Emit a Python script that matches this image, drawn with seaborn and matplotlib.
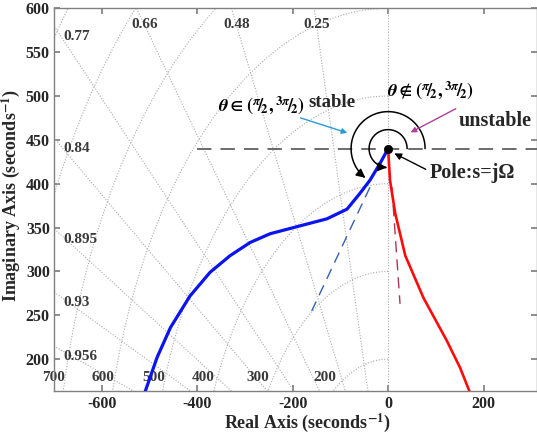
import numpy as np
import pandas as pd
import matplotlib
matplotlib.use("Agg")
import matplotlib.pyplot as plt
import matplotlib.transforms as mtransforms
from matplotlib.patches import FancyArrowPatch
from matplotlib.path import Path
import seaborn as sns

# ---------------- data ----------------
blue_x = [-509, -484, -456, -415, -373, -331, -289, -247, -198, -128, -86, -59, -38, -17, 0]
blue_y = [163, 202, 236, 272, 299, 318, 333, 343, 350, 360, 371, 389, 404, 423, 440]
red_x = [0, 4, 15, 36, 74, 123, 151, 170]
red_y = [440, 404, 366, 318, 270, 221, 190, 164]
blue_tan_x = [-38, -160]
blue_tan_y = [396, 255]
red_tan_x = [8, 25]
red_tan_y = [396, 263]
pole_x, pole_y = 0, 440
ref_line_start = -400

zeta_vals = [0.25, 0.48, 0.66, 0.77, 0.84, 0.895, 0.93, 0.956, 0.985]
wn_vals = [100, 200, 300, 400, 500, 600, 700, 800, 900, 1000]
wn_labels = ["700", "600", "500", "400", "300", "200"]
wn_label_x = [-701, -597, -492, -387, -274, -132]
wn_label_y = 179

x_ticks = [-600, -400, -200, 0, 200]
y_ticks = [200, 250, 300, 350, 400, 450, 500, 550, 600]
xlim = (-700, 312)
ylim = (164, 600)

# ---------------- style ----------------
sns.set_theme(style="ticks")
plt.rcParams["font.family"] = ["Liberation Serif", "DejaVu Serif"]
plt.rcParams["mathtext.fontset"] = "stix"
plt.rcParams["font.weight"] = "bold"
plt.rcParams["axes.labelweight"] = "bold"
plt.rcParams["axes.unicode_minus"] = False

W, H = 537, 437
fig = plt.figure(figsize=(W / 100, H / 100), dpi=100)
ax = fig.add_axes([54 / W, (H - 390.7) / H, 483 / W, 382.4 / H])

grid_kw = dict(color="#ababab", lw=0.8, ls=(0, (1, 1.5)), zorder=1)
# damping-ratio lines
for z in [0.0] + zeta_vals:
    th = np.arccos(z)
    r = np.array([0, 3000])
    ax.plot(-r * np.cos(th), r * np.sin(th), **grid_kw)
# natural-frequency arcs
for wn in wn_vals:
    t = np.linspace(np.pi / 2, np.pi, 200)
    ax.plot(wn * np.cos(t), wn * np.sin(t), **grid_kw)

lab_kw = dict(color="#3a3a3a", fontsize=11, fontweight="bold", zorder=2)
for z in zeta_vals:
    k = np.tan(np.arccos(z))
    xtop = -(ylim[1] - 19) / k
    if xtop > xlim[0] + 60:
        ax.text(xtop, ylim[1] - 19, str(z), ha="center", va="center", **lab_kw)
    else:
        yl = -xlim[0] * k - 12
        if ylim[0] + 30 < yl < ylim[1]:
            ax.text(xlim[0] + 20, yl, str(z), ha="left", va="center", **lab_kw)
for lx, lt in zip(wn_label_x, wn_labels):
    ax.text(lx, wn_label_y, lt, ha="center", va="center", clip_on=False, **lab_kw)

# reference dashed line through the pole
ax.hlines(pole_y, ref_line_start, xlim[1], colors="#606060", lw=1.3,
          linestyles=[(0, (8, 5))], zorder=3)

# curves
df_b = pd.DataFrame({"x": blue_x, "y": blue_y})
df_r = pd.DataFrame({"x": red_x, "y": red_y})
sns.lineplot(data=df_b, x="x", y="y", sort=False, estimator=None, color="#0a14f0", lw=2.3, ax=ax, zorder=4)
sns.lineplot(data=df_r, x="x", y="y", sort=False, estimator=None, color="#ff0a0a", lw=1.9, ax=ax, zorder=4)
ax.plot(blue_tan_x, blue_tan_y, color="#3560b0", lw=1.0, ls=(0, (8, 5)), zorder=3)
ax.plot(red_tan_x, red_tan_y, color="#a33a55", lw=1.0, ls=(0, (8, 5)), zorder=3)
sns.scatterplot(x=[pole_x], y=[pole_y], color="black", s=36, ax=ax, zorder=6, edgecolor="black")

# angle arcs around the pole (drawn in pixel units)
pole_trans = mtransforms.Affine2D() + mtransforms.ScaledTranslation(pole_x, pole_y, ax.transData)


def arc_arrow(r, a0, a1):
    t = np.radians(np.linspace(a0, a1, 120))
    verts = np.column_stack([r * np.cos(t), r * np.sin(t)])
    codes = [Path.MOVETO] + [Path.LINETO] * (len(verts) - 1)
    p = FancyArrowPatch(path=Path(verts, codes), arrowstyle="-|>", mutation_scale=13,
                        transform=pole_trans, color="black", lw=1.1, zorder=5)
    ax.add_artist(p)


arc_arrow(37, 0, 232)
arc_arrow(19, 0, 266)

# texts
ax.text(-176, 489, r"$\theta\in\left({}^{\pi}\!/\!_{2},{}^{3\pi}\!/\!_{2}\right)$", ha="right", va="center",
        fontsize=13, color="black", zorder=6)
ax.text(-167, 493, "stable", ha="left", va="center", fontsize=13.5, fontweight="bold", zorder=6)
ax.text(-2, 506, r"$\theta\notin\left({}^{\pi}\!/\!_{2},{}^{3\pi}\!/\!_{2}\right)$", ha="left", va="center",
        fontsize=13, color="black", zorder=6)
ax.text(147, 471, "unstable", ha="left", va="center", fontsize=14.5, fontweight="bold", zorder=6)
ax.text(88, 412, "Pole:s=jΩ", ha="left", va="center", fontsize=14.5, fontweight="bold", zorder=6)

ax.annotate("", xy=(-80, 457), xytext=(-189, 476),
            arrowprops=dict(arrowstyle="-|>", color="#2a9ad8", lw=1.0, mutation_scale=8), zorder=6)
ax.annotate("", xy=(42, 457), xytext=(147, 487),
            arrowprops=dict(arrowstyle="-|>", color="#b0409a", lw=1.0, mutation_scale=8), zorder=6)
ax.annotate("", xy=(8, 436), xytext=(84, 415),
            arrowprops=dict(arrowstyle="-|>", color="black", lw=1.0, mutation_scale=10), zorder=6)

# axes
ax.set_xlim(*xlim)
ax.set_ylim(*ylim)
ax.set_xticks(x_ticks)
ax.set_yticks(y_ticks)
ax.tick_params(direction="in", length=4, color="#808080", top=True, right=True,
               labelsize=11.5)
ax.tick_params(axis="x", pad=4)
ax.tick_params(axis="y", pad=3)
for lab in ax.get_xticklabels() + ax.get_yticklabels():
    lab.set_fontweight("bold")
for s in ax.spines.values():
    s.set_color("#808080")
    s.set_linewidth(1.0)
ax.set_xlabel("Real Axis (seconds$^{\\mathbf{-1}}$)", fontsize=13, fontweight="bold")
ax.set_ylabel("Imaginary Axis (seconds$^{\\mathbf{-1}}$)", fontsize=13, fontweight="bold")
ax.xaxis.set_label_coords((308 - 54) / 483, -0.055)
ax.yaxis.set_label_coords(-0.066, 0.51)

fig.savefig("out.png", dpi=100)
